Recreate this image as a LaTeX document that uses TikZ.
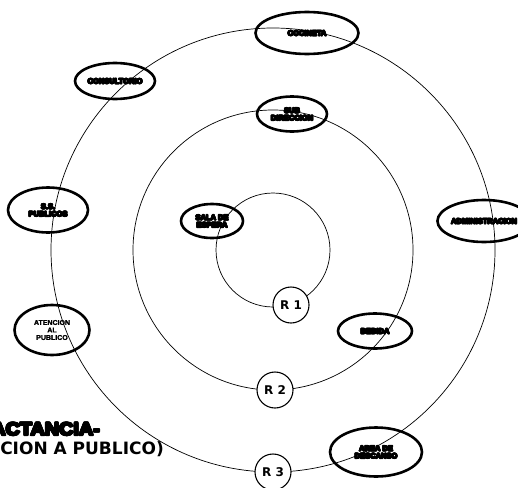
\documentclass[tikz,border=0pt]{standalone}
\usepackage{fontspec}
\setmainfont{Liberation Sans}
\newfontfamily\blobfont[FakeBold=3]{Liberation Sans Bold}
\newfontfamily\midfont[FakeBold=2]{Liberation Sans Bold}
\newfontfamily\rfont{DejaVu Sans Bold}
\newfontfamily\titlefont[FakeBold=3,FakeStretch=1.1]{Liberation Sans Bold}
\usetikzlibrary{shapes.geometric}
\newlength\hvd
\setlength\hvd{0.6pt}
\newcommand\hvy[1]{\leavevmode\rlap{\kern\hvd #1}\rlap{\kern-\hvd #1}%
  \rlap{\raisebox{\hvd}{#1}}\rlap{\raisebox{-\hvd}{#1}}%
  \rlap{\kern.7\hvd\raisebox{.7\hvd}{#1}}\rlap{\kern-.7\hvd\raisebox{.7\hvd}{#1}}%
  \rlap{\kern.7\hvd\raisebox{-.7\hvd}{#1}}\rlap{\kern-.7\hvd\raisebox{-.7\hvd}{#1}}#1}
\tikzset{
  ring/.style={draw=black, line width=0.7pt},
  room/.style={ellipse, draw=black, line width=2.6pt, inner sep=0pt, align=center,
     font=\blobfont\fontsize{7.5}{7.5}\selectfont},
  rnode/.style={circle, draw=black, line width=1.1pt, fill=white, minimum size=36pt,
     inner sep=0pt, font=\rfont\fontsize{12}{12}\selectfont}
}
\begin{document}
\begin{tikzpicture}[x=1pt,y=-1pt]
\useasboundingbox (0,0) rectangle (518,487);
\coordinate (c) at (273,250);
\draw[ring] (c) circle[radius=57pt];
\draw[ring] (c) circle[radius=140pt];
\draw[ring] (c) circle[radius=222pt];

\node[room, minimum width=103pt, minimum height=42pt] (coc) at (307,33) {\hvy{COCINETA}};
\node[room, minimum width=80pt, minimum height=36pt] (cons) at (115,81) {\hvy{CONSULTORIO}};
\node[room, minimum width=70pt, minimum height=35pt] (sub) at (292,114) {\hvy{SUB}\\\hvy{DIRECCION}};
\node[room, minimum width=80pt, minimum height=45pt] (ss) at (48,210) {\hvy{S.S.}\\\hvy{PUBLICOS}};
\node[room, minimum width=62pt, minimum height=34pt] (sala) at (212,221) {\hvy{SALA DE}\\\hvy{ESPERA}};
\node[room, minimum width=78pt, minimum height=42pt] (adm) at (484,221) {\hvy{ADMINISTRACION}};
\node[room, minimum width=75pt, minimum height=50pt, font=\midfont\fontsize{7}{7.5}\selectfont] (aten) at (52,330) {ATENCION\\AL\\PUBLICO};
\node[room, minimum width=74pt, minimum height=35pt] (beb) at (375,331) {\hvy{BEBIDA}};
\node[room, minimum width=92pt, minimum height=49pt] (area) at (376,452) {\hvy{AREA DE}\\\hvy{DESCANSO}};

\node[rnode] (r1) at (291,305) {R 1};
\node[rnode] (r2) at (275,390) {R 2};
\node[rnode] (r3) at (273,472) {R 3};

\node[anchor=base east, inner sep=0pt, font=\titlefont\fontsize{18}{18}\selectfont] (t1) at (100,435) {\setlength\hvd{0.9pt}\hvy{LACTANCIA-}};
\node[anchor=base east, inner sep=0pt, font=\rfont\fontsize{17}{17}\selectfont] (t2) at (164,454) {(ATENCION A PUBLICO)};
\end{tikzpicture}
\end{document}
